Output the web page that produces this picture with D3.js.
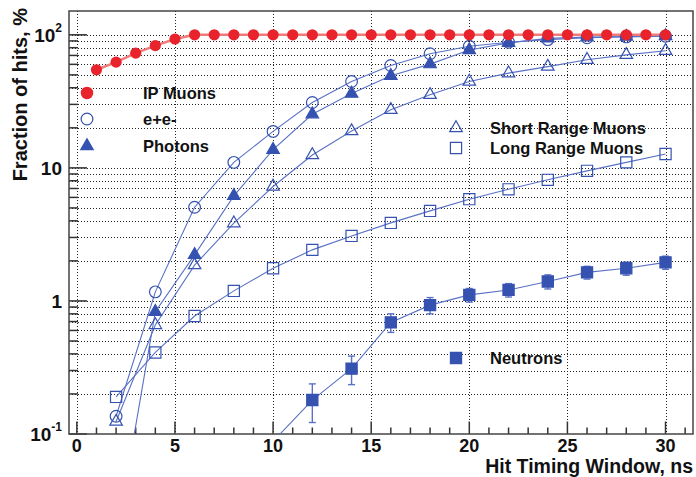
<!DOCTYPE html>
<html>
<head>
<meta charset="utf-8">
<script src="https://cdn.jsdelivr.net/npm/d3@7"></script>
<style>
  body { margin: 0; background: #fff; }
  text { font-family: "Liberation Sans", Arial, sans-serif; font-weight: bold; fill: #111; }
</style>
</head>
<body>
<div id="chart"></div>
<script>
// data (x in ns, y in %)
const timeAll = [1,2,3,4,5,6,7,8,9,10,11,12,13,14,15,16,17,18,19,20,21,22,23,24,25,26,27,28,29,30];
const timeEven = [2,4,6,8,10,12,14,16,18,20,22,24,26,28,30];
const neutronTime = [10,12,14,16,18,20,22,24,26,28,30];

const ipMuons = [54.6,62.3,72.8,83,93,100,100,100,100,100,100,100,100,100,100,100,100,100,100,100,100,100,100,100,100,100,100,100,100,100];
const eplusEminus = [0.136,1.17,5.06,11.0,18.8,31.0,44.6,58.8,72,82,88,92,95,96.5,97.5];
const photons = [0.016,0.83,2.22,6.16,13.7,25.3,36.2,49.2,60.2,77,87,94,96,97,98];
const shortRange = [0.124,0.66,1.86,3.84,7.24,12.5,18.9,27.3,35.4,44.6,51.5,57.7,65,70.7,75.8];
const longRange = [0.19,0.41,0.77,1.19,1.76,2.42,3.08,3.86,4.75,5.82,6.9,8.13,9.5,11.0,12.7];
const neutrons = [0.088,0.18,0.31,0.69,0.93,1.11,1.21,1.40,1.64,1.76,1.95];
const neutronErr = [0,0.058,0.075,0.11,0.13,0.13,0.14,0.17,0.18,0.2,0.22];

const xTicks = [0,5,10,15,20,25,30];
const yMajor = [0.1,1,10,100];
const yLabels = [["10","-1"],["1",""],["10",""],["10","2"]];

const red = "#e8232b", blue = "#3552b0", lineBlue = "#5a72c6";

const width = 696, height = 477;
const plot = {left: 69, right: 693, top: 11, bottom: 434};

const svg = d3.select("#chart")
    .append("svg")
    .attr("width", width)
    .attr("height", height);

const x = d3.scaleLinear().domain([-0.4, 31.4]).range([plot.left, plot.right]);
const y = d3.scaleLog().domain([0.1, 151]).range([plot.bottom, plot.top]);

// minor log ticks 0.2..0.9, 2..9, 20..90, 100
const yMinor = [];
[0.1, 1, 10].forEach(d => { for (let k = 2; k <= 9; k++) yMinor.push(+(d * k).toFixed(2)); });
const yGrid = yMinor.concat([1, 10, 100]);
const xMinor = d3.range(0, 32);

// grid
const grid = svg.append("g").attr("stroke", "#222").attr("stroke-width", 1).attr("stroke-dasharray", "1,2");
grid.selectAll("line.h").data(yGrid).enter().append("line")
    .attr("x1", plot.left).attr("x2", plot.right)
    .attr("y1", d => Math.round(y(d)) + 0.5).attr("y2", d => Math.round(y(d)) + 0.5);
grid.selectAll("line.v").data(xTicks).enter().append("line")
    .attr("x1", d => Math.round(x(d)) + 0.5).attr("x2", d => Math.round(x(d)) + 0.5)
    .attr("y1", plot.top).attr("y2", plot.bottom);

// ticks
const ticks = svg.append("g").attr("stroke", "#333").attr("stroke-width", 1.5);
ticks.selectAll("line.ym").data(yMinor).enter().append("line")
    .attr("x1", plot.left).attr("x2", plot.left + 9)
    .attr("y1", d => y(d)).attr("y2", d => y(d));
ticks.selectAll("line.yM").data(yMajor).enter().append("line")
    .attr("x1", plot.left).attr("x2", plot.left + 18)
    .attr("y1", d => y(d)).attr("y2", d => y(d));
ticks.selectAll("line.xm").data(xMinor).enter().append("line")
    .attr("x1", d => x(d)).attr("x2", d => x(d))
    .attr("y1", plot.bottom).attr("y2", d => plot.bottom - (d % 5 === 0 ? 12.5 : 6.5));

// frame
svg.append("rect")
    .attr("x", plot.left).attr("y", plot.top)
    .attr("width", plot.right - plot.left).attr("height", plot.bottom - plot.top)
    .attr("fill", "none").attr("stroke", "#444").attr("stroke-width", 1.5);

// tick labels
svg.append("g").selectAll("text").data(xTicks).enter().append("text")
    .attr("x", d => x(d)).attr("y", 451.5)
    .attr("text-anchor", "middle").attr("font-size", 18)
    .text(d => d);

const yl = svg.append("g").selectAll("text").data(yMajor).enter().append("text")
    .attr("x", 62).attr("y", d => y(d)).attr("dy", "0.36em")
    .attr("text-anchor", "end").attr("font-size", 19);
yl.append("tspan").text((d, i) => yLabels[i][0]);
yl.append("tspan").attr("font-size", 12).attr("dy", "-0.8em").text((d, i) => yLabels[i][1]);

// axis titles
svg.append("text")
    .attr("transform", "translate(27,8) rotate(-90)")
    .attr("text-anchor", "end").attr("font-size", 20)
    .text("Fraction of hits, %");
svg.append("text")
    .attr("x", 693).attr("y", 472.8)
    .attr("text-anchor", "end").attr("font-size", 19.5)
    .text("Hit Timing Window, ns");

// clip for data
svg.append("clipPath").attr("id", "clip").append("rect")
    .attr("x", plot.left).attr("y", plot.top)
    .attr("width", plot.right - plot.left).attr("height", plot.bottom - plot.top);
const area = svg.append("g").attr("clip-path", "url(#clip)");

const line = d3.line().x(d => x(d[0])).y(d => y(d[1]));
const zip = (xs, ys) => xs.map((v, i) => [v, ys[i]]);

const series = [
    {data: zip(timeEven, shortRange), sym: d3.symbolTriangle, size: 68, fill: "none", stroke: blue},
    {data: zip(timeEven, longRange), sym: d3.symbolSquare, size: 125, fill: "none", stroke: blue},
    {data: zip(timeEven, photons), sym: d3.symbolTriangle, size: 68, fill: blue, stroke: blue},
    {data: zip(timeEven, eplusEminus), sym: d3.symbolCircle, size: 108, fill: "none", stroke: blue},
    {data: zip(neutronTime, neutrons), sym: d3.symbolSquare, size: 125, fill: blue, stroke: blue}
];

// lines
series.forEach(s => {
    area.append("path").datum(s.data)
        .attr("fill", "none").attr("stroke", lineBlue).attr("stroke-width", 1.1)
        .attr("d", line);
});
area.append("path").datum(zip(timeAll, ipMuons))
    .attr("fill", "none").attr("stroke", "#f07a7a").attr("stroke-width", 2.5)
    .attr("d", line);

// neutron error bars
const eb = area.append("g").attr("stroke", lineBlue).attr("stroke-width", 1.4);
neutronTime.forEach((t, i) => {
    if (!neutronErr[i]) return;
    const y1 = y(neutrons[i] - neutronErr[i]), y2 = y(neutrons[i] + neutronErr[i]);
    eb.append("line").attr("x1", x(t)).attr("x2", x(t)).attr("y1", y1).attr("y2", y2);
    eb.append("line").attr("x1", x(t) - 3.5).attr("x2", x(t) + 3.5).attr("y1", y1).attr("y2", y1);
    eb.append("line").attr("x1", x(t) - 3.5).attr("x2", x(t) + 3.5).attr("y1", y2).attr("y2", y2);
});

// markers
series.forEach(s => {
    area.selectAll(null).data(s.data).enter().append("path")
        .attr("transform", d => `translate(${x(d[0])},${y(d[1])})`)
        .attr("d", d3.symbol().type(s.sym).size(s.size))
        .attr("fill", s.fill).attr("stroke", s.stroke).attr("stroke-width", 1.2);
});
area.selectAll(null).data(zip(timeAll, ipMuons)).enter().append("circle")
    .attr("cx", d => x(d[0])).attr("cy", d => y(d[1])).attr("r", 5.6)
    .attr("fill", red);

// legend
const legendItems = [
    {label: "IP Muons", mx: 87, my: 93, tx: 143, sym: d3.symbolCircle, size: 100, fill: red, stroke: red},
    {label: "e+e-", mx: 87, my: 119, tx: 143, sym: d3.symbolCircle, size: 108, fill: "none", stroke: blue},
    {label: "Photons", mx: 87, my: 146, tx: 143, sym: d3.symbolTriangle, size: 68, fill: blue, stroke: blue},
    {label: "Short Range Muons", mx: 456, my: 128, tx: 490, sym: d3.symbolTriangle, size: 68, fill: "none", stroke: blue},
    {label: "Long Range Muons", mx: 456, my: 148, tx: 490, sym: d3.symbolSquare, size: 125, fill: "none", stroke: blue},
    {label: "Neutrons", mx: 456, my: 358, tx: 490, sym: d3.symbolSquare, size: 125, fill: blue, stroke: blue}
];
const legend = svg.append("g").selectAll("g").data(legendItems).enter().append("g");
legend.append("path")
    .attr("transform", d => `translate(${d.mx},${d.my})`)
    .attr("d", d => d3.symbol().type(d.sym).size(d.size)())
    .attr("fill", d => d.fill).attr("stroke", d => d.stroke).attr("stroke-width", 1.2);
legend.append("text")
    .attr("x", d => d.tx).attr("y", d => d.my).attr("dy", "0.36em")
    .attr("font-size", 16.5)
    .text(d => d.label);
</script>
</body>
</html>
